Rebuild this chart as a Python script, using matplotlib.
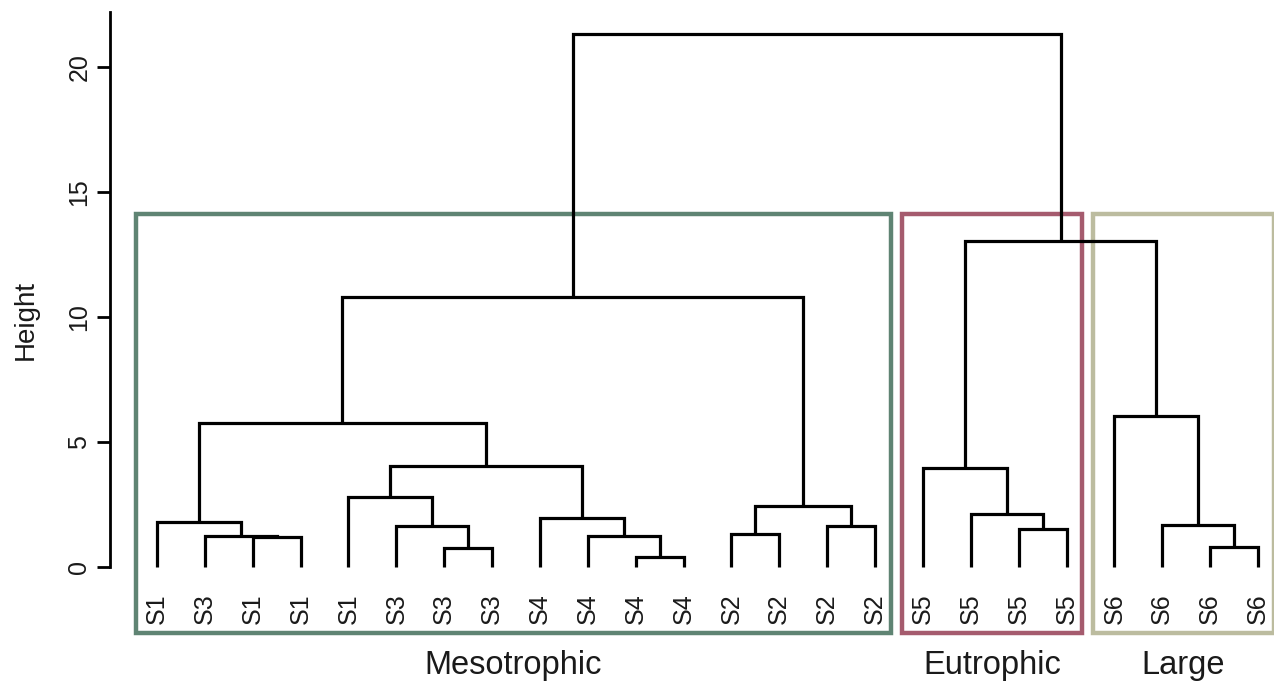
import matplotlib
matplotlib.use("Agg")
import matplotlib.pyplot as plt
from matplotlib.patches import Rectangle

# ---- data ----
leaf_labels = ["S1", "S3", "S1", "S1", "S1", "S3", "S3", "S3",
               "S4", "S4", "S4", "S4", "S2", "S2", "S2", "S2",
               "S5", "S5", "S5", "S5", "S6", "S6", "S6", "S6"]
# merges: (left id, right id, height); ids >= 24 refer to earlier merges
merge_left = [2, 1, 0, 6, 5, 4, 10, 9, 8, 29, 26, 12, 14, 35, 34,
              18, 17, 16, 22, 21, 20, 41, 38]
merge_right = [3, 24, 25, 7, 27, 28, 11, 30, 31, 32, 33, 13, 15, 36, 37,
               19, 39, 40, 23, 42, 43, 44, 45]
merge_height = [1.19, 1.25, 1.81, 0.75, 1.65, 2.80, 0.39, 1.25, 1.95, 4.04,
                5.76, 1.32, 1.64, 2.45, 10.8, 1.52, 2.11, 3.95, 0.81, 1.68,
                6.04, 13.04, 21.32]
group_names = ["Mesotrophic", "Eutrophic", "Large"]
group_first = [0, 16, 20]
group_last = [15, 19, 23]
group_colors = ["#5f8473", "#a55b6e", "#bcbc9f"]
y_ticks = [0, 5, 10, 15, 20]

# ---- figure ----
W, H = 1274, 687
fig = plt.figure(figsize=(W / 100, H / 100), dpi=100)
plt.rcParams['font.family'] = ['Liberation Sans', 'DejaVu Sans']
left_px = 110
ax = fig.add_axes([left_px / W, 0, 1 - left_px / W, 1])
px_per_x = (1258 - 157) / 23.0
ax.set_xlim(1 - (157 - left_px) / px_per_x, 24 + (W - 1258) / px_per_x)
ax.set_ylim(-(H - 567) / 25.0, 567 / 25.0)

n = len(leaf_labels)
xpos = {i: i + 1 for i in range(n)}
ypos = {i: 0.0 for i in range(n)}
lc = "black"
lw = 2.3
for k, (a, b, h) in enumerate(zip(merge_left, merge_right, merge_height)):
    xa, xb = xpos[a], xpos[b]
    ax.plot([xa, xa, xb, xb], [ypos[a], h, h, ypos[b]], color=lc, lw=lw,
            solid_capstyle='butt', solid_joinstyle='miter', clip_on=False)
    node = n + k
    xpos[node] = (xa + xb) / 2
    ypos[node] = h

for i, lab in enumerate(leaf_labels):
    ax.text(i + 1, -1.68, lab, rotation=90, ha='center', va='center',
            fontsize=18, color='#1a1a1a')

for name, f, l, c in zip(group_names, group_first, group_last, group_colors):
    x0 = f + 1 - 0.44
    x1 = l + 1 + 0.33
    ax.add_patch(Rectangle((x0, -2.64), x1 - x0, 14.12 + 2.64, fill=False,
                           edgecolor=c, lw=3.2, clip_on=False))
    ax.text((x0 + x1) / 2, -3.95, name, ha='center', va='center',
            fontsize=23.5, color='#1a1a1a')

for s in ['top', 'right', 'bottom']:
    ax.spines[s].set_visible(False)
ax.spines['left'].set_bounds(0, 22.2)
ax.spines['left'].set_linewidth(2.0)
ax.set_xticks([])
ax.set_yticks(y_ticks)
ax.set_yticklabels([str(t) for t in y_ticks])
ax.tick_params(axis='y', length=9.5, width=2.0, labelsize=18, pad=4,
               labelrotation=90, labelcolor='#1a1a1a')
for t in ax.get_yticklabels():
    t.set_va('center')
ax.set_ylabel("Height", fontsize=20, color='#1a1a1a')
ax.yaxis.set_label_coords((39 - left_px) / (W - left_px), (H - 320) / H)

fig.savefig("out.png", dpi=100)
